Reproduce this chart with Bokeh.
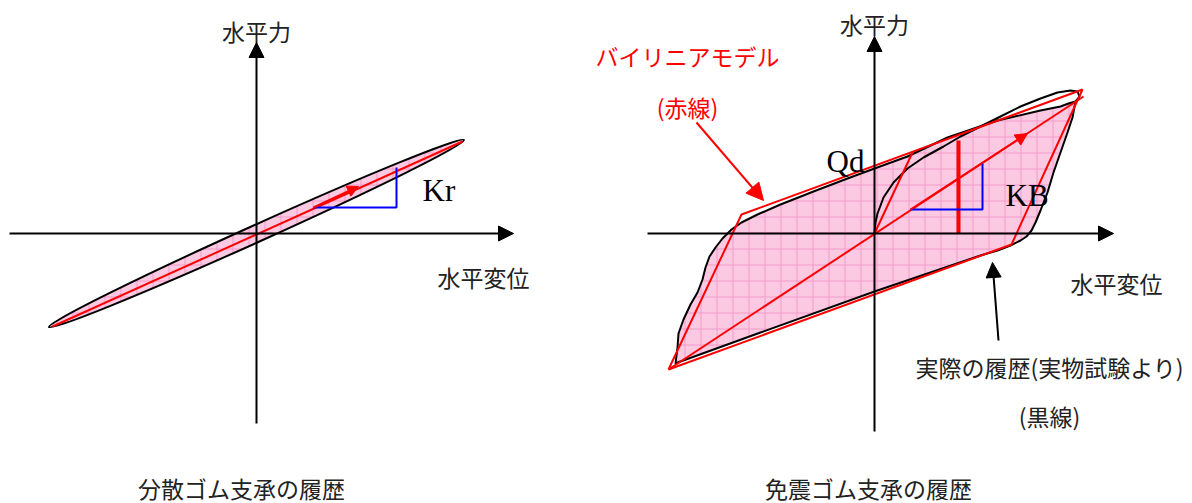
import math
from bokeh.plotting import figure
from bokeh.models import Range1d, Arrow, NormalHead
from bokeh.layouts import row
from bokeh.embed import file_html
from bokeh.resources import INLINE
from bokeh.core.properties import value

# ---------------- data (diagram units, origin at the axes' crossing, force upward) -------------
# Left panel: 分散ゴム支承
left_axis_h = ([-247, 257], [0, 0])
left_axis_v = ([0, 0], [-190, 191])
left_loop_center = (0, 0)
left_loop_tips = ([-206, 209], [-93, 94])     # ends of the thin hysteresis loop
left_loop_thickness = 17
left_kr_line = ([-204, 206], [-93, 92])
left_kr_arrow = ([57, 102], [26, 47])
left_kr_triangle = ([57, 140, 140], [26, 26, 66])

# Right panel: 免震ゴム支承
right_axis_h = ([-227, 239], [0, 0])
right_axis_v = ([0, 0], [-198, 197])
loop_x = [-199, -197, -196, -191, -184, -177, -172, -169, -165, -159, -152, -143, -133, -117,
          -94, -61, -27, 0, 33, 73, 123, 166, 186, 194, 201, 198, 193, 186, 179, 173, 166,
          161, 157, 152, 146, 136, 123, 106, 0, -114, -194]
loop_y = [-130, -114, -100, -86, -71, -59, -46, -34, -23, -14, -5, 4, 11, 19,
          29, 42, 55, 65, 77, 96, 113, 123, 127, 130, 132, 116, 101, 81, 61, 41, 23,
          11, 3, -3, -7, -12, -17, -22, -58, -99, -128]
initial_x = [0, 1, 3, 9, 19, 33, 49, 69, 86, 106, 126, 146, 166, 183, 196, 203, 205, 201]
initial_y = [0, 11, 20, 36, 51, 65, 76, 87, 97, 107, 117, 127, 135, 141, 143, 142, 137, 132]
bilinear_x = [-206, -133, 208, 137, -206]
bilinear_y = [-136, 19, 144, -11, -136]
elastic_x = [0, 38]
elastic_y = [0, 81]
kb_line = ([-206, 209], [-136, 137])
kb_arrow = ([36, 153], [24, 100])
kb_triangle = ([36, 108, 108], [24, 24, 70])
qd_bar = ([84, 84], [0, 93])
red_note_arrow = ([-178, -111], [111, 33])
black_note_arrow = ([124, 118], [-107, -29])

# texts: (text, x, y, align)
left_texts_cjk = [("水平力", 0, 203, "center"), ("水平変位", 181, -43, "left"),
                  ("分散ゴム支承の履歴", -15, -254, "center")]
left_texts_latin = [("Kr", 166, 43)]
right_texts_cjk = [("水平力", 0, 210, "center"), ("水平変位", 196, -49, "left"),
                   ("実際の履歴(実物試験より)", 41, -133, "left"), ("(黒線)", 175, -182, "center"),
                   ("免震ゴム支承の履歴", -6, -254, "center")]
right_texts_red = [("バイリニアモデル", -279, 178, "left"), ("(赤線)", -187, 127, "center")]
right_texts_latin = [("Qd", -48, 72), ("KB", 131, 38)]

PINK = "#FBC9E2"
GRID = "#F39BC9"
CJK = "Noto Sans CJK JP"
SERIF = "Liberation Serif"
TXT = "#222222"
H = 503


def make_fig(xr, w):
    p = figure(width=w, height=H, x_range=Range1d(*xr), y_range=Range1d(-270, 233),
               output_backend="svg", toolbar_location=None, min_border=0,
               x_axis_type=None, y_axis_type=None)
    p.grid.visible = False
    p.outline_line_color = None
    return p


def axis_arrows(p, h, v):
    for seg in (h, v):
        p.add_layout(Arrow(end=NormalHead(size=15, fill_color="black", line_color="black"),
                           x_start=seg[0][0], y_start=seg[1][0], x_end=seg[0][1], y_end=seg[1][1],
                           line_width=2, line_color="black"))


def add_texts(p, items, font, size, color, baseline):
    for it in items:
        t, x, y = it[0], it[1], it[2]
        align = it[3] if len(it) > 3 else "left"
        p.text(x=[x], y=[y], text=[t], text_font=value(font), text_font_size=size,
               text_color=color, text_align=align, text_baseline=baseline)


# ---------------- left figure ----------------
pl = make_fig((-256, 324), 580)
axis_arrows(pl, left_axis_h, left_axis_v)
dx = left_loop_tips[0][1] - left_loop_tips[0][0]
dy = left_loop_tips[1][1] - left_loop_tips[1][0]
pl.ellipse(x=[left_loop_center[0]], y=[left_loop_center[1]], width=[math.hypot(dx, dy)],
           height=[left_loop_thickness], angle=[math.atan2(dy, dx)],
           fill_color=PINK, hatch_pattern="+", hatch_color=GRID, hatch_scale=16,
           hatch_weight=1, line_color="black", line_width=2)
pl.line(x=left_kr_line[0], y=left_kr_line[1], line_color="red", line_width=2)
pl.add_layout(Arrow(end=NormalHead(size=11, fill_color="red", line_color="red"),
                    x_start=left_kr_arrow[0][0], y_start=left_kr_arrow[1][0],
                    x_end=left_kr_arrow[0][1], y_end=left_kr_arrow[1][1],
                    line_width=2, line_color="red"))
pl.line(x=left_kr_triangle[0], y=left_kr_triangle[1], line_color="blue", line_width=2)
add_texts(pl, left_texts_cjk, CJK, "23px", TXT, "middle")
add_texts(pl, left_texts_latin, SERIF, "31px", "black", "alphabetic")

# ---------------- right figure ----------------
pr = make_fig((-294, 318), 612)
axis_arrows(pr, right_axis_h, right_axis_v)
pr.patch(x=loop_x, y=loop_y, fill_color=PINK, hatch_pattern="+", hatch_color=GRID,
         hatch_scale=16, hatch_weight=1, line_color="black", line_width=2)
pr.line(x=initial_x, y=initial_y, line_color="black", line_width=2)
pr.line(x=bilinear_x, y=bilinear_y, line_color="red", line_width=2)
pr.line(x=elastic_x, y=elastic_y, line_color="red", line_width=2)
pr.line(x=kb_line[0], y=kb_line[1], line_color="red", line_width=2)
pr.add_layout(Arrow(end=NormalHead(size=12, fill_color="red", line_color="red"),
                    x_start=kb_arrow[0][0], y_start=kb_arrow[1][0],
                    x_end=kb_arrow[0][1], y_end=kb_arrow[1][1],
                    line_width=2, line_color="red"))
pr.line(x=qd_bar[0], y=qd_bar[1], line_color="red", line_width=4)
pr.line(x=kb_triangle[0], y=kb_triangle[1], line_color="blue", line_width=2)
pr.add_layout(Arrow(end=NormalHead(size=17, fill_color="red", line_color="red"),
                    x_start=red_note_arrow[0][0], y_start=red_note_arrow[1][0],
                    x_end=red_note_arrow[0][1], y_end=red_note_arrow[1][1],
                    line_width=2, line_color="red"))
pr.add_layout(Arrow(end=NormalHead(size=15, fill_color="black", line_color="black"),
                    x_start=black_note_arrow[0][0], y_start=black_note_arrow[1][0],
                    x_end=black_note_arrow[0][1], y_end=black_note_arrow[1][1],
                    line_width=2, line_color="black"))
add_texts(pr, right_texts_cjk, CJK, "23px", TXT, "middle")
add_texts(pr, right_texts_red, CJK, "23px", "red", "middle")
add_texts(pr, right_texts_latin, SERIF, "31px", "black", "alphabetic")

layout = row(pl, pr, spacing=0)
open("out.html", "w").write(file_html(layout, INLINE))
